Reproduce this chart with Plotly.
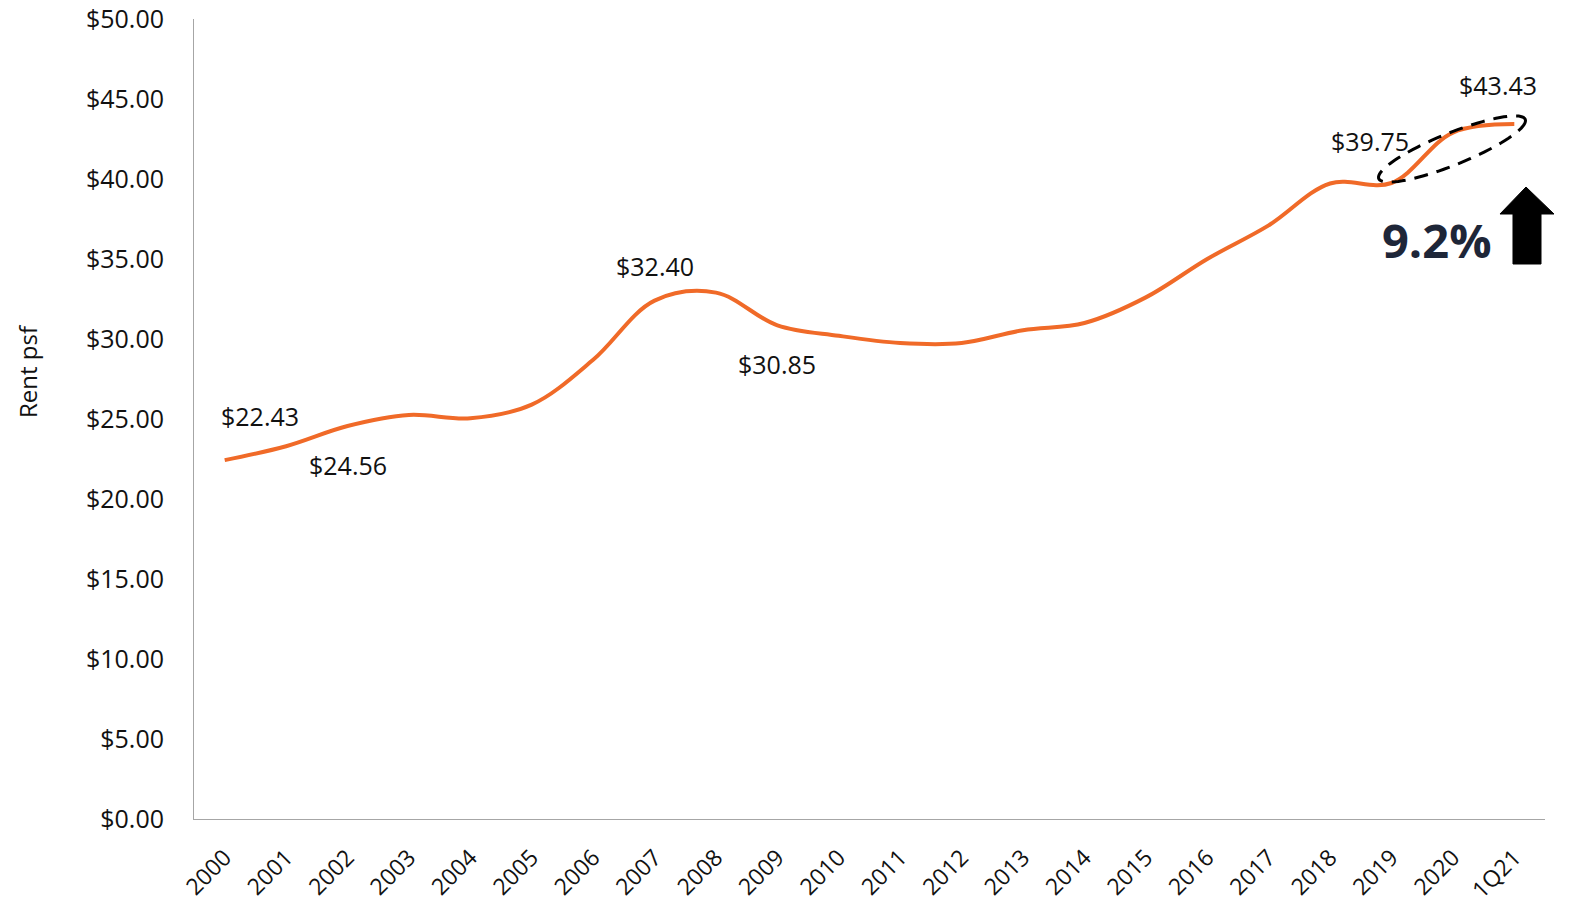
import numpy as np
import plotly.graph_objects as go

periods = ["2000", "2001", "2002", "2003", "2004", "2005", "2006", "2007", "2008", "2009",
           "2010", "2011", "2012", "2013", "2014", "2015", "2016", "2017", "2018", "2019",
           "2020", "1Q21"]
rent_psf = [22.43, 23.30, 24.56, 25.25, 25.05, 25.90, 28.70, 32.40, 32.90, 30.85,
            30.20, 29.75, 29.75, 30.55, 31.00, 32.60, 35.00, 37.10, 39.72, 39.75,
            42.90, 43.43]

# labelled points: (period, text, xshift, yshift)
labels = [
    ("2000", "$22.43", 35, 44),
    ("2002", "$24.56", 0, -39),
    ("2007", "$32.40", 0, 35),
    ("2009", "$30.85", 0, -39),
    ("2019", "$39.75", -21, 42),
    ("1Q21", "$43.43", -16, 39),
]
growth_text = "9.2%"
y_title = "Rent psf"

W, H = 1570, 906
L, R, T, B = 194, 25, 19, 87
ORANGE = "#F06A28"
FONT = "Open Sans"


def to_paper(px, py):
    # pixel position in the page -> paper coordinates of the plot area
    return (px - L) / (W - L - R), (H - B - py) / (H - T - B)


fig = go.Figure()
fig.add_trace(go.Scatter(
    x=periods, y=rent_psf, mode="lines",
    line=dict(color=ORANGE, width=4, shape="spline", smoothing=1.0),
    showlegend=False, hoverinfo="x+y",
))

annotations = []
for per, txt, dx, dy in labels:
    i = periods.index(per)
    annotations.append(dict(
        x=i, y=rent_psf[i], text=txt, showarrow=False,
        xanchor="center", yanchor="middle",
        xshift=dx, yshift=dy, font=dict(family=FONT, size=25, color="#111111"),
    ))

gx, gy = to_paper(1437, 240)
annotations.append(dict(
    x=gx, y=gy, xref="paper", yref="paper", text="<b>%s</b>" % growth_text,
    xanchor="center", yanchor="middle",
    showarrow=False, font=dict(family=FONT, size=47, color="#1E2638"),
))

tx, ty = to_paper(28, 371)
annotations.append(dict(
    x=tx, y=ty, xref="paper", yref="paper", text=y_title, textangle=-90,
    xanchor="center", yanchor="middle",
    showarrow=False, font=dict(family=FONT, size=24, color="#111111"),
))

# dashed ellipse around the last points
t = np.linspace(0, 2 * np.pi, 90)
ang = np.deg2rad(22)
cx, cy, a, b = 1452, 149, 79, 16
ex = cx + a * np.cos(t) * np.cos(ang) + b * np.sin(t) * np.sin(ang)
ey = cy - a * np.cos(t) * np.sin(ang) + b * np.sin(t) * np.cos(ang)
pts = [to_paper(x, y) for x, y in zip(ex, ey)]
ell_path = "M " + " L ".join("%.5f,%.5f" % p for p in pts) + " Z"

arrow_px = [(1526, 187), (1554, 214), (1541, 214), (1541, 264),
            (1513, 264), (1513, 214), (1500, 214)]
arr_path = "M " + " L ".join("%.5f,%.5f" % to_paper(x, y) for x, y in arrow_px) + " Z"

shapes = [
    dict(type="path", path=ell_path, xref="paper", yref="paper",
         line=dict(color="black", width=3, dash="14px,9px")),
    dict(type="path", path=arr_path, xref="paper", yref="paper",
         fillcolor="black", line=dict(color="black", width=1)),
]

fig.update_layout(
    width=W, height=H,
    margin=dict(l=L, r=R, t=T, b=B, autoexpand=False),
    paper_bgcolor="white", plot_bgcolor="white",
    font=dict(family=FONT, size=22, color="#111111"),
    annotations=annotations, shapes=shapes,
)
fig.update_xaxes(
    type="category", range=[-0.5, len(periods) - 0.5],
    showgrid=False, zeroline=False, showline=True, linecolor="#A6A6A6", linewidth=1,
    ticks="", tickangle=-45, ticklabelstandoff=15,
    tickfont=dict(family=FONT, size=23, color="#111111"),
)
fig.update_yaxes(
    range=[0, 50], dtick=5, tickformat="$.2f",
    showgrid=False, zeroline=False, showline=True, linecolor="#A6A6A6", linewidth=1,
    ticks="", ticklabelstandoff=24,
    tickfont=dict(family=FONT, size=25, color="#111111"),
)

fig.write_html("out.html", config={"displayModeBar": False},
               post_script="document.body.style.margin='0';")
